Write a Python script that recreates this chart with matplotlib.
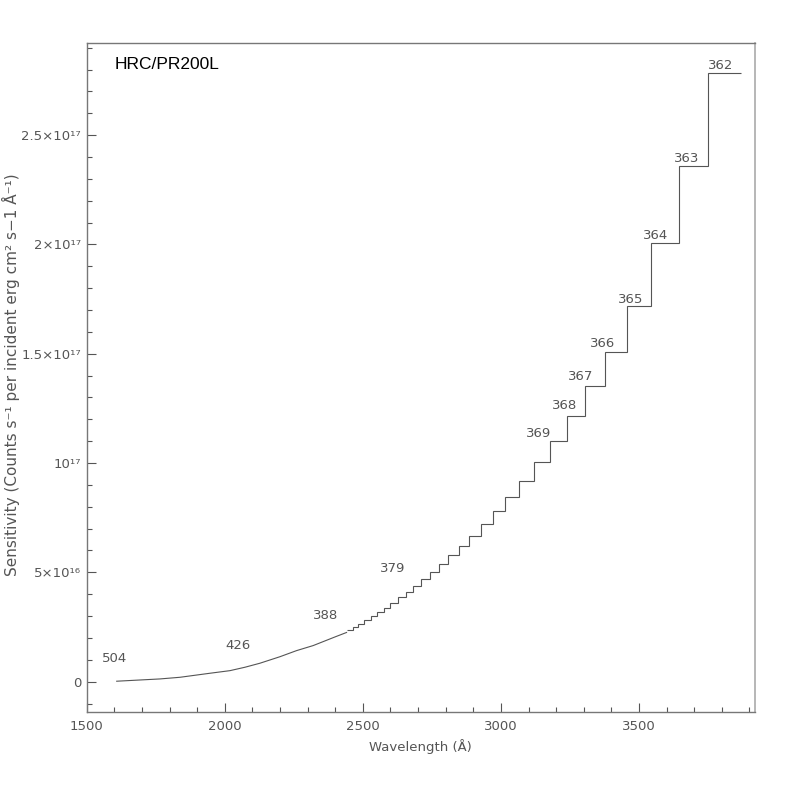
import matplotlib
matplotlib.use("Agg")
import matplotlib.pyplot as plt
import numpy as np

# ---- data ----
# smooth-looking low-wavelength part (pixels 504 .. 392), sampled along the curve
low_wave = [1608.6, 1765, 1837.7, 1946, 2018.7, 2073, 2127, 2199.6, 2260, 2320, 2360, 2400, 2441]
low_sens = [2e14, 1.24e15, 2.0e15, 3.84e15, 5.03e15, 6.59e15, 8.42e15, 1.14e16, 1.42e16, 1.65e16,
            1.85e16, 2.05e16, 2.25e16]

# resolved steps, pixel 391 .. 362 (edges in Angstrom, level per step)
step_edges = [2441, 2463, 2484, 2505, 2528, 2551, 2575, 2600, 2628, 2655, 2682, 2710, 2742, 2776,
              2809, 2849, 2886, 2928, 2972, 3016, 3066, 3121, 3176, 3239, 3305, 3378, 3457, 3545,
              3643, 3750, 3868]
step_levels = [2.365e16, 2.489e16, 2.640e16, 2.823e16, 3.006e16, 3.202e16, 3.385e16, 3.614e16,
               3.861e16, 4.103e16, 4.392e16, 4.712e16, 5.032e16, 5.384e16, 5.782e16, 6.194e16,
               6.679e16, 7.214e16, 7.795e16, 8.463e16, 9.195e16, 1.0064e17, 1.1011e17, 1.2141e17,
               1.3513e17, 1.5096e17, 1.7187e17, 2.0055e17, 2.3591e17, 2.7832e17]

# pixel labels and their positions
pix_labels = ["504", "426", "388", "379", "369", "368", "367", "366", "365", "364", "363", "362"]
pix_label_x = [1554, 2003, 2319, 2561, 3090, 3184, 3242, 3323, 3423, 3513, 3626, 3751]
pix_label_y = [9.0e15, 1.50e16, 2.87e16, 5.02e16, 1.121e17, 1.249e17, 1.380e17, 1.531e17,
               1.732e17, 2.025e17, 2.377e17, 2.803e17]

ytick_vals = [0, 5e16, 1e17, 1.5e17, 2e17, 2.5e17]
ytick_labels = ["0", "5×10¹⁶", "10¹⁷", "1.5×10¹⁷", "2×10¹⁷", "2.5×10¹⁷"]
xtick_vals = [1500, 2000, 2500, 3000, 3500]

title = "HRC/PR200L"
xlabel = "Wavelength (Å)"
ylabel = "Sensitivity (Counts s⁻¹ per incident erg cm² s−1 Å⁻¹)"

# ---- plot ----
plt.rcParams['font.family'] = ['DejaVu Sans']
gray = '#555555'
fig = plt.figure(figsize=(7.97, 7.97), dpi=100)
ax = fig.add_axes([0.1088, 0.1066, 0.8385, 0.8391])

ax.plot(low_wave, low_sens, color=gray, lw=0.8)
ax.stairs(step_levels, step_edges, baseline=None, color=gray, lw=0.8)

for t, x, y in zip(pix_labels, pix_label_x, pix_label_y):
    ax.text(x, y, t, color=gray, fontsize=9.5, ha='left', va='baseline')

ax.set_xlim(1500, 3920)
ax.set_ylim(-1.39e16, 2.92e17)
ax.set_xticks(xtick_vals)
ax.set_xticks(np.arange(1500, 3901, 100), minor=True)
ax.set_yticks(ytick_vals)
ax.set_yticklabels(ytick_labels)
ax.set_yticks(np.arange(-1e16, 2.91e17, 1e16), minor=True)

ax.tick_params(which='both', direction='in', colors=gray, labelsize=9.5)
ax.tick_params(which='major', length=6.5, width=0.8)
ax.tick_params(which='minor', length=3.6, width=0.8)
ax.tick_params(axis='x', pad=6)
ax.tick_params(axis='y', pad=4)
for side in ['left', 'bottom', 'top']:
    ax.spines[side].set_color('#777777')
    ax.spines[side].set_linewidth(1.0)
ax.spines['right'].set_color('#aaaaaa')
ax.spines['right'].set_linewidth(1.2)

ax.set_xlabel(xlabel, color=gray, fontsize=9.5, labelpad=4)
ax.set_ylabel(ylabel, color=gray, fontsize=11)
ax.yaxis.set_label_coords(-0.1, 0.505)

ax.text(0.0424, 0.961, title, transform=ax.transAxes, fontsize=12.5, color='black',
        family=['Liberation Sans', 'DejaVu Sans'], ha='left', va='baseline')

fig.savefig("out.png", dpi=100)
